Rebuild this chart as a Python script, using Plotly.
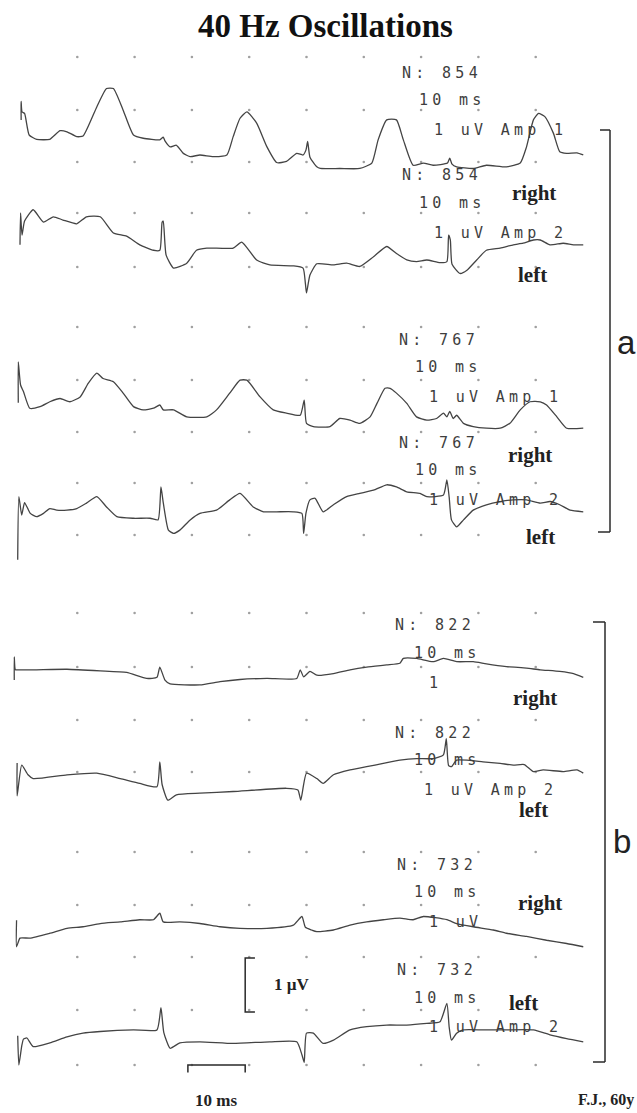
import plotly.graph_objects as go

# ---------------- data (time in ms, amplitude in µV) ----------------
T1 = [(0.2,0.78),(0.2,1.12),(0.35,0.93),(0.8,0.9),(1.6,0.50),(2.9,0.42),(5.2,0.42),(7.0,0.58),(8.2,0.56),(9.9,0.47),
      (11.0,0.48),(13.4,1.02),(15.1,1.36),(16.3,1.36),(18.0,0.96),(19.8,0.50),(21.5,0.44),(24.4,0.41),(25.0,0.46),(25.3,0.39),
      (26.2,0.28),(27.3,0.31),(28.5,0.16),(29.7,0.10),(31.4,0.13),(33.7,0.10),(36.1,0.13),(37.2,0.47),(38.4,0.81),(39.6,0.93),
      (41.3,0.72),(43.1,0.28),(44.8,-0.01),(46.5,0.01),(48.3,0.16),(49.4,0.13),(49.9,0.22),(50.2,0.38),(50.6,0.09),(51.8,-0.09),
      (52.4,-0.12),(55.8,-0.12),(59.3,-0.12),(61.4,-0.02),(62.5,0.41),(64.0,0.78),(65.7,0.78),(66.9,0.41),(68.6,-0.06),(70.4,-0.02),
      (72.1,-0.06),(74.6,-0.02),(75.0,0.07),(75.4,-0.04),(76.2,-0.09),(79.1,-0.12),(81.4,-0.06),(84.9,-0.09),(87.3,-0.02),(88.4,0.28),
      (89.6,0.78),(90.5,0.90),(91.6,0.84),(93.1,0.53),(94.2,0.19),(95.4,0.16),(97.2,0.17),(98.3,0.13)]
T2 = [(0.0,0.41),(0.1,1.0),(0.35,0.59),(0.8,0.85),(2.3,1.06),(4.1,0.83),(5.8,0.93),(7.5,0.87),(9.9,0.80),(11.6,0.93),
      (14.0,0.93),(16.3,0.63),(18.6,0.57),(20.9,0.41),(23.3,0.31),(24.4,0.31),(24.8,0.83),(25.0,0.85),(25.5,0.22),(26.8,-0.02),
      (29.1,0.07),(30.8,0.31),(32.6,0.35),(37.2,0.35),(38.7,0.46),(41.3,0.13),(43.6,0.04),(47.7,0.02),(49.4,-0.02),(49.8,-0.30),
      (50.0,-0.48),(50.6,-0.15),(51.8,0.06),(54.7,0.04),(57.0,0.07),(59.3,0.01),(61.7,0.19),(64.0,0.38),(65.7,0.25),(67.5,0.13),
      (69.2,0.10),(71.0,0.13),(73.3,0.08),(74.5,0.10),(74.8,0.59),(75.1,0.50),(75.4,0.05),(76.8,-0.12),(78.0,-0.06),(79.7,0.13),
      (81.4,0.31),(83.8,0.35),(86.1,0.41),(87.8,0.44),(89.6,0.50),(90.8,0.50),(92.5,0.41),(94.8,0.44),(96.6,0.41),(98.3,0.41)]
T3 = [(-0.3,0.54),(-0.3,1.30),(0.1,0.87),(0.6,0.75),(1.7,0.44),(3.5,0.47),(5.2,0.56),(7.0,0.62),(8.7,0.56),(10.5,0.65),
      (11.9,0.90),(13.4,1.09),(14.5,0.99),(16.3,0.93),(18.0,0.72),(19.8,0.47),(21.5,0.41),(23.3,0.44),(24.4,0.50),(25.0,0.41),
      (26.8,0.41),(29.1,0.28),(32.6,0.28),(34.3,0.41),(36.6,0.72),(38.4,0.96),(39.6,0.96),(41.9,0.65),(44.2,0.41),(46.5,0.35),
      (48.9,0.31),(49.6,0.59),(50.0,0.16),(51.2,0.10),(54.1,0.10),(55.8,0.25),(57.6,0.22),(59.3,0.16),(61.1,0.28),(62.3,0.53),
      (63.7,0.81),(64.6,0.81),(65.7,0.72),(67.5,0.53),(69.2,0.28),(71.0,0.22),(72.7,0.25),(73.9,0.35),(74.5,0.28),(75.0,0.38),
      (75.6,0.25),(76.2,0.31),(77.4,0.16),(79.1,0.10),(81.4,0.07),(83.8,0.07),(85.5,0.16),(87.3,0.41),(89.0,0.56),(90.8,0.56),
      (91.9,0.50),(93.7,0.28),(95.4,0.07),(98.3,0.07)]
T4 = [(-0.4,-0.46),(-0.2,0.71),(0.3,0.37),(0.8,0.60),(1.8,0.40),(2.9,0.34),(4.1,0.40),(5.2,0.49),(6.4,0.46),(8.2,0.46),
      (9.9,0.49),(11.6,0.59),(13.4,0.71),(15.1,0.52),(16.9,0.34),(19.8,0.31),(22.7,0.31),(24.1,0.28),(24.6,0.89),(25.0,0.60),
      (25.9,0.09),(26.8,0.03),(27.9,0.09),(29.7,0.28),(31.4,0.40),(34.3,0.46),(36.6,0.65),(38.4,0.77),(40.7,0.52),(42.5,0.43),
      (44.8,0.43),(47.7,0.43),(49.2,0.40),(49.5,0.03),(49.9,0.40),(50.6,0.65),(51.5,0.68),(52.9,0.43),(54.7,0.56),(57.0,0.71),
      (59.3,0.77),(61.7,0.83),(64.0,0.93),(65.7,0.89),(67.5,0.80),(69.8,0.77),(71.0,0.71),(73.9,0.74),(74.5,1.02),(74.9,0.70),
      (75.3,0.28),(76.2,0.15),(77.4,0.28),(79.1,0.46),(81.4,0.56),(83.8,0.62),(86.1,0.65),(88.4,0.65),(90.8,0.59),(92.5,0.62),
      (94.2,0.56),(96.0,0.46),(98.3,0.43)]
T5 = [(-1.0,0.74),(-1.0,1.17),(-0.8,0.93),(0.0,0.93),(2.3,0.93),(8.2,0.94),(14.0,0.91),(18.6,0.88),(22.1,0.77),(23.9,0.79),
      (24.4,0.98),(25.3,0.74),(26.2,0.67),(31.4,0.65),(34.9,0.71),(38.4,0.75),(43.1,0.77),(48.3,0.77),(48.9,0.93),(49.5,0.80),
      (50.6,0.90),(51.8,0.83),(54.7,0.86),(57.6,0.93),(60.5,0.98),(64.0,1.02),(66.3,1.05),(66.9,1.14),(69.2,1.14),(72.1,1.08),
      (73.9,1.14),(76.2,1.08),(79.1,1.08),(81.4,1.04),(84.9,0.99),(88.4,0.96),(90.8,0.93),(94.2,0.90),(96.6,0.86),(98.3,0.79)]
T6 = [(-0.5,1.15),(-0.5,0.54),(0.3,1.11),(1.4,0.93),(2.3,0.86),(8.2,0.93),(13.4,0.96),(17.5,0.86),(20.9,0.77),(23.9,0.71),
      (24.4,1.17),(24.8,0.75),(25.8,0.46),(27.3,0.56),(31.4,0.59),(37.2,0.62),(46.5,0.68),(48.5,0.65),(49.0,0.46),(50.0,0.96),
      (51.8,0.86),(52.9,0.77),(54.7,0.93),(57.6,1.02),(60.5,1.08),(63.4,1.14),(66.3,1.20),(69.2,1.23),(72.1,1.23),(73.9,1.30),
      (74.4,1.60),(74.8,1.10),(75.3,1.08),(76.2,1.20),(80.8,1.17),(83.8,1.14),(86.1,1.11),(88.0,1.12),(89.6,0.99),(91.3,1.02),
      (94.8,0.99),(97.2,1.02),(98.3,0.96)]
T7 = [(-0.6,0.68),(-0.6,0.19),(0.0,0.35),(1.7,0.35),(5.2,0.44),(8.2,0.53),(11.0,0.56),(14.0,0.62),(17.5,0.65),(20.9,0.69),
      (23.3,0.69),(24.4,0.81),(25.0,0.65),(27.9,0.65),(31.4,0.62),(34.9,0.56),(38.4,0.53),(43.1,0.53),(47.7,0.59),(49.2,0.75),
      (49.8,0.55),(50.9,0.50),(51.8,0.47),(54.7,0.50),(57.6,0.59),(60.5,0.65),(63.4,0.69),(66.3,0.72),(68.6,0.69),(70.4,0.75),
      (74.5,0.69),(76.2,0.62),(79.1,0.56),(82.6,0.50),(84.9,0.44),(88.4,0.38),(91.9,0.31),(95.4,0.25),(98.3,0.19)]
T8 = [(-0.4,0.54),(-0.2,0.0),(0.3,0.35),(0.6,0.48),(1.2,0.5),(2.3,0.34),(5.2,0.41),(8.2,0.52),(11.0,0.59),(14.0,0.62),
      (19.8,0.65),(23.9,0.65),(24.6,1.06),(25.1,0.6),(26.2,0.31),(27.9,0.41),(31.4,0.43),(37.2,0.40),(43.6,0.43),(48.3,0.43),
      (49.2,0.19),(49.6,0.05),(50.0,0.59),(51.2,0.59),(52.9,0.40),(54.7,0.46),(57.6,0.65),(60.5,0.71),(64.0,0.74),(67.5,0.74),
      (71.0,0.77),(73.3,0.80),(74.5,1.14),(74.9,0.7),(75.3,0.46),(76.2,0.59),(77.4,0.65),(80.8,0.65),(84.9,0.65),(89.6,0.65),
      (92.5,0.56),(95.4,0.49),(98.3,0.43)]

TRACES = [T1, T2, T3, T4, T5, T6, T7, T8]
N_SWEEPS = ["854", "854", "767", "767", "822", "822", "732", "732"]
AMP_LABELS = ["1 uV Amp 1", "1 uV Amp 2", "1 uV Amp 1", "1 uV Amp 2", "1", "1 uV Amp 2", "1 uV", "1 uV Amp 2"]
SIDES = ["right", "left", "right", "left", "right", "left", "right", "left"]
GRID_MS = [10, 20, 30, 40, 50, 60, 70, 80, 90]
SCALE_MS = 10
SCALE_UV = 1

# ---------------- layout geometry (pixels) ----------------
W, H = 637, 1113
X0_PX, PX_PER_MS, PX_PER_UV = 20, 5.73, 54
REF_PX = [162, 267, 432, 535, 720, 825, 957, 1065]       # baseline of each sweep
GRID_ROWS_PX = [57, 110, 162, 213, 267, 327, 380, 432, 483, 535,
                613, 667, 720, 772, 852, 905, 957, 1010, 1065]

def yv(py):
    return -py / PX_PER_UV

def px(x, y):
    return x / W, 1 - y / H

fig = go.Figure()

# grid dots
gx, gy = [], []
for r in GRID_ROWS_PX:
    for t in GRID_MS:
        gx.append(t)
        gy.append(yv(r))
fig.add_trace(go.Scatter(x=gx, y=gy, mode="markers",
                         marker=dict(size=2.6, color="#a0a0a0", symbol="circle"),
                         hoverinfo="skip", showlegend=False))

# sweeps
for tr, ref in zip(TRACES, REF_PX):
    fig.add_trace(go.Scatter(x=[p[0] for p in tr], y=[yv(ref) + p[1] for p in tr],
                             mode="lines",
                             line=dict(color="#444444", width=1.3, shape="spline", smoothing=0.5),
                             hoverinfo="skip", showlegend=False))

# calibration bars: 1 µV (vertical) and 10 ms (horizontal)
bar_t = 39.3
bar_base = yv(1012)
fig.add_trace(go.Scatter(x=[bar_t + 1.7, bar_t, bar_t, bar_t + 1.7],
                         y=[bar_base + SCALE_UV, bar_base + SCALE_UV, bar_base, bar_base],
                         mode="lines", line=dict(color="#2a2a2a", width=1.5),
                         hoverinfo="skip", showlegend=False))
tb = yv(1065)
fig.add_trace(go.Scatter(x=[bar_t - SCALE_MS, bar_t - SCALE_MS, bar_t, bar_t],
                         y=[tb - 0.14, tb, tb, tb - 0.14],
                         mode="lines", line=dict(color="#2a2a2a", width=1.5),
                         hoverinfo="skip", showlegend=False))

ann = []
def add_text(text, x, y, font, xanchor="center", yanchor="middle"):
    ax, ay = px(x, y)
    ann.append(dict(text=text, x=ax, y=ay, xref="paper", yref="paper", showarrow=False,
                    xanchor=xanchor, yanchor=yanchor, font=font))

mono = dict(family="DejaVu Sans Mono", size=15, color="#3e3e3e")
serif_b = dict(family="Liberation Serif", size=21, color="#222222")

def ls(s):
    return '<span style="letter-spacing:4.3px">' + s + '</span>'

# monospace labels: (N-row y, ms-row y, amp-row y, N left, ms left, amp left)
LABEL_POS = [(73, 100, 130, 400, 417, 432), (175, 203, 233, 400, 417, 432),
             (340, 367, 397, 397, 413, 427), (443, 470, 500, 397, 413, 427),
             (625, 653, 683, 393, 412, 427), (733, 760, 790, 393, 412, 422),
             (865, 892, 922, 395, 412, 427), (970, 998, 1027, 395, 412, 427)]
SIDE_POS = [(534, 193), (532, 275), (530, 455), (540, 537), (535, 698), (533, 810), (540, 903), (523, 1003)]
for i in range(8):
    yn, ym, ya, xn, xm, xa = LABEL_POS[i]
    add_text(ls("N: " + N_SWEEPS[i]), xn, yn, mono, xanchor="left")
    add_text(ls("10 ms"), xm, ym, mono, xanchor="left")
    add_text(ls(AMP_LABELS[i]), xa, ya, mono, xanchor="left")
    sx, sy = SIDE_POS[i]
    add_text("<b>" + SIDES[i] + "</b>", sx, sy, serif_b)

# title and other labels
add_text("<b>40 Hz Oscillations</b>", 325, 26, dict(family="Liberation Serif", size=33, color="#111111"))
add_text("a", 626, 343, dict(family="Liberation Sans", size=33, color="#222222"))
add_text("b", 622, 841, dict(family="Liberation Sans", size=33, color="#222222"))
add_text("<b>1 µV</b>", 272, 984, dict(family="Liberation Serif", size=17, color="#222222"), xanchor="left")
add_text("<b>10 ms</b>", 216, 1100, dict(family="Liberation Serif", size=17, color="#222222"))
add_text("<b>F.J., 60y</b>", 636, 1100, dict(family="Liberation Serif", size=16, color="#222222"), xanchor="right")

# brackets a and b
shapes = []
def seg(x1, y1, x2, y2):
    a1, b1 = px(x1, y1)
    a2, b2 = px(x2, y2)
    shapes.append(dict(type="line", xref="paper", yref="paper", x0=a1, y0=b1, x1=a2, y1=b2,
                       line=dict(color="#2a2a2a", width=1.5)))
seg(600, 130, 610, 130); seg(610, 130, 610, 532); seg(598, 532, 610, 532)
seg(593, 622, 605, 622); seg(605, 622, 605, 1062); seg(593, 1062, 605, 1062)

fig.update_layout(
    width=W, height=H, margin=dict(l=0, r=0, t=0, b=0),
    paper_bgcolor="white", plot_bgcolor="white",
    xaxis=dict(range=[-X0_PX / PX_PER_MS, (W - X0_PX) / PX_PER_MS], visible=False, fixedrange=True),
    yaxis=dict(range=[yv(H), 0], visible=False, fixedrange=True),
    annotations=ann, shapes=shapes, showlegend=False,
)
fig.write_html("out.html", config={"displayModeBar": False},
               post_script="document.body.style.margin='0';document.body.style.overflow='hidden';")
